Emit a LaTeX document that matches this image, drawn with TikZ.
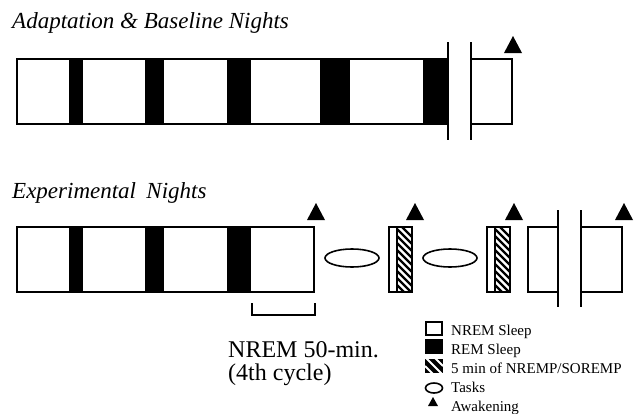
\documentclass[tikz,border=0pt]{standalone}
\usepackage{fontspec}
\setmainfont{Liberation Serif}
\begin{document}
\begin{tikzpicture}[x=1pt,y=-1pt,
  outline/.style={draw=black,line width=1.6pt},
  rem/.style={fill=black},
  cut/.style={draw=black,line width=1.8pt},
  awake/.style={fill=black},
  task/.style={draw=black,line width=1.6pt},
  title/.style={anchor=base west,inner sep=0pt,font=\fontsize{23}{25}\selectfont\itshape},
  note/.style={anchor=base west,inner sep=0pt,font=\fontsize{24}{26}\selectfont},
  legtext/.style={anchor=base west,inner sep=0pt,font=\fontsize{15}{17}\selectfont}]
\useasboundingbox (0,0) rectangle (638,413);

% hatched 5-min segment: white strip on the left, diagonal hatching on the right
\newcommand{\hatchbox}[3]{% left x, divider x, right x
  \fill[white] (#1,227) rectangle (#3,292);
  \begin{scope}
    \clip (#2,227) rectangle (#3,292);
    \foreach \k in {0,...,13} {
      \draw[line width=2.4pt] (#2-2,220+\k*7) -- ++(20,20);
    }
  \end{scope}
  \draw[outline] (#1,227) rectangle (#3,292);
  \draw[line width=1.4pt] (#2,227) -- (#2,292);
}
\newcommand{\wake}[2]{% centre x, base y
  \fill[awake] (#1-9,#2) -- (#1+9,#2) -- (#1,#2-17) -- cycle;
}

% ---------- Adaptation & Baseline nights ----------
\node[title] (t1) at (12,28) {Adaptation \& Baseline Nights};
\foreach \a/\b in {69/83,145/164,227/251,320/350,423/448}
  \fill[rem] (\a,59) rectangle (\b,124);
\draw[outline] (17,59) rectangle (448,124);
\draw[outline] (471,59) -- (512,59) -- (512,124) -- (471,124);
\draw[cut] (448,42) -- (448,140);
\draw[cut] (471,42) -- (471,140);
\wake{513}{53}

% ---------- Experimental nights ----------
\node[title] (t2) at (12,198) {Experimental\hspace{0.2em} Nights};
\foreach \a/\b in {69/83,145/164,227/251}
  \fill[rem] (\a,227) rectangle (\b,292);
\draw[outline] (17,227) rectangle (314,292);
\wake{316}{220}

\draw[task] (352,258) ellipse [x radius=27,y radius=9];
\hatchbox{389}{397}{412}
\wake{415}{220}

\draw[task] (450,258) ellipse [x radius=27,y radius=9];
\hatchbox{487}{495}{510}
\wake{514}{220}

\draw[outline] (558,227) -- (528,227) -- (528,292) -- (558,292);
\draw[outline] (581,227) -- (622,227) -- (622,292) -- (581,292);
\draw[cut] (558,210) -- (558,307);
\draw[cut] (581,210) -- (581,307);
\wake{624}{220}

% bracket under the 4th NREM cycle
\draw[line width=1.6pt] (252,303) -- (252,315) -- (315,315) -- (315,303);
\node[note] (n1) at (228,357) {NREM 50-min.};
\node[note] (n2) at (228,380) {(4th cycle)};

% ---------- legend ----------
\draw[line width=1.4pt] (426,322) rectangle (442,335);
\fill[black] (425,339) rectangle (443,354);
\fill[black] (425,359) rectangle (443,373);
\begin{scope}
  \clip (425,359) rectangle (443,373);
  \draw[white,line width=2pt] (425,357) -- ++(18,18);
  \draw[white,line width=2pt] (425,366) -- ++(18,18);
  \draw[white,line width=2pt] (425,348) -- ++(18,18);
\end{scope}
\draw[line width=1.6pt] (434,388) ellipse [x radius=8.5,y radius=5];
\fill[black] (428,406) -- (438,406) -- (433,397) -- cycle;

\node[legtext] (l1) at (451,335) {NREM Sleep};
\node[legtext] (l2) at (451,354) {REM Sleep};
\node[legtext] (l3) at (451,373) {5 min of NREMP/SOREMP};
\node[legtext] (l4) at (451,392) {Tasks};
\node[legtext] (l5) at (451,411) {Awakening};
\end{tikzpicture}
\end{document}
